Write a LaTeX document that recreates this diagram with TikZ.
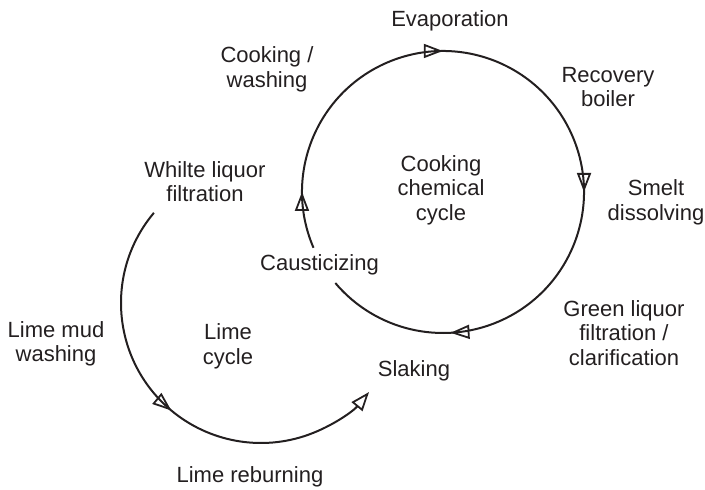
\documentclass[tikz,border=0pt]{standalone}
\usepackage{fontspec}
\setmainfont{Liberation Sans}
\usetikzlibrary{arrows.meta,decorations.markings}
\definecolor{ink}{HTML}{231F20}
\tikzset{
  label text/.style={font=\fontsize{22}{24.2}\selectfont, text=ink, align=center, inner sep=0pt, anchor=base},
  cycle line/.style={draw=ink, line width=2pt},
  flow tip/.tip={Triangle[open, length=19pt, width=14pt, line width=1.8pt]},
  flow at/.style={postaction={decorate, decoration={markings,
      mark=at position #1 with {\arrow[ink]{flow tip}}}}}
}
\begin{document}
\begin{tikzpicture}[x=1pt, y=-1pt]
\useasboundingbox (0,0) rectangle (705,490);

% centres of the two cycles
\coordinate (cc) at (443,192);
\coordinate (lc) at (261,303);

% cooking chemical cycle (clockwise, broken at causticizing)
\draw[cycle line,
      postaction={decorate, decoration={markings,
        mark=at position 0.068 with {\arrow[ink]{flow tip}},
        mark=at position 0.330 with {\arrow[ink]{flow tip}},
        mark=at position 0.5925 with {\arrow[ink]{flow tip}},
        mark=at position 0.846 with {\arrow[ink]{flow tip}}}}]
  (cc) ++(156.7:141) arc[start angle=156.7, end angle=499.8, radius=141];

% lime cycle (from white liquor filtration round to slaking)
\draw[cycle line, -{flow tip}, flow at=0.5]
  (lc) ++(220.1:140) arc[start angle=220.1, end angle=39.5, radius=140];

% labels (anchored on the baseline of their last line)
\node[label text] (evap)    at (450,26)    {Evaporation};
\node[label text] (cookw)   at (267,87)    {Cooking /\\washing};
\node[label text] (recov)   at (608,106.7) {Recovery\\boiler};
\node[label text] (smelt)   at (656,220)   {Smelt\\dissolving};
\node[label text] (ccycle)  at (441,220)   {Cooking\\chemical\\cycle};
\node[label text] (white)   at (205,201.7) {Whilte liquor\\filtration};
\node[label text] (caust)   at (319.5,270.7) {Causticizing};
\node[label text] (green)   at (624,365)   {Green liquor\\filtration /\\clarification};
\node[label text] (mud)     at (56,361.7)  {Lime mud\\washing};
\node[label text] (lcycle)  at (228,364)   {Lime\\cycle};
\node[label text] (slak)    at (414,376.7) {Slaking};
\node[label text] (reburn)  at (250,482.7) {Lime reburning};
\end{tikzpicture}
\end{document}
